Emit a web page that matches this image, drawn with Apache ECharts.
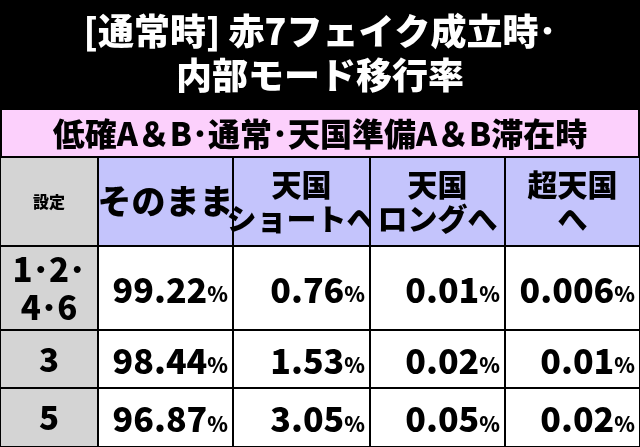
<!DOCTYPE html><html><head><meta charset="utf-8"><script src="https://cdn.jsdelivr.net/npm/echarts@6/dist/echarts.min.js"></script>
<style>html,body{margin:0;padding:0;background:#000}#c{width:640px;height:447px}</style></head><body><div id="c"></div><script>
const titleText = "[通常時] 赤7フェイク成立時･\n内部モード移行率";
const bandText = "低確A＆B･通常･天国準備A＆B滞在時";
const headers = ["設定", "そのまま", "天国\nショートへ", "天国\nロングへ", "超天国\nへ"];
const settings = ["1･2･\n4･6", "3", "5"];
const stay = ["99.22", "98.44", "96.87"];
const heavenShort = ["0.76", "1.53", "3.05"];
const heavenLong = ["0.01", "0.02", "0.05"];
const superHeaven = ["0.006", "0.01", "0.02"];

const colEdges = [0, 98, 233, 370, 505, 640];
const rowEdges = [157, 246, 330, 388, 447];
const F = '"Noto Sans CJK JP", sans-serif';

const cells = [];
headers.forEach((h, c) => cells.push([c, 0, h, c === 0 ? 'hs' : 'h']));
const cols = [stay, heavenShort, heavenLong, superHeaven];
settings.forEach((s, r) => {
  cells.push([0, r + 1, s, 's']);
  cols.forEach((arr, c) => cells.push([c + 1, r + 1, arr[r], 'v']));
});

const chart = echarts.init(document.getElementById('c'));
chart.setOption({
  backgroundColor: '#000',
  animation: false,
  title: [{ text: titleText, left: 'center', top: 4, textStyle: { color: '#fff', fontFamily: F, fontWeight: 900, fontSize: 36, lineHeight: 44 } }],
  graphic: [
    { type: 'rect', shape: { x: 1, y: 109, width: 638, height: 48 }, style: { fill: '#fcd0fc', stroke: '#000', lineWidth: 2 } },
    { type: 'text', x: 320, y: 134, style: { text: bandText, fill: '#000', font: '900 32px ' + F, align: 'center', verticalAlign: 'middle' } }
  ],
  grid: { left: 0, right: 0, top: 0, bottom: 0 },
  xAxis: { type: 'value', min: 0, max: 640, show: false },
  yAxis: { type: 'value', min: 0, max: 447, inverse: true, show: false },
  series: [{
    type: 'custom',
    data: cells,
    renderItem: function (params, api) {
      const c = api.value(0), r = api.value(1);
      const type = cells[params.dataIndex][3];
      const text = cells[params.dataIndex][2];
      const p0 = api.coord([colEdges[c], rowEdges[r]]);
      const p1 = api.coord([colEdges[c + 1], rowEdges[r + 1]]);
      const w = p1[0] - p0[0], h = p1[1] - p0[1];
      let fill = '#fff';
      if (type === 'h') fill = '#c4c4fc';
      if (type === 'hs' || type === 's') fill = '#d4d4d4';
      const rect = { type: 'rect', shape: { x: p0[0], y: p0[1], width: w, height: h }, style: { fill: fill, stroke: '#000', lineWidth: 2 } };
      let txt;
      if (type === 'v') {
        txt = { type: 'text', x: p1[0] - 5, y: p0[1] + h / 2 + 2, style: { text: '{n|' + text + '}{p|%}', align: 'right', verticalAlign: 'middle',
          rich: { n: { font: '900 34px ' + F, fill: '#000' }, p: { font: '900 21px ' + F, fill: '#000', padding: [9, 0, 0, 0] } } } };
      } else {
        let size = type === 'hs' ? 16 : (type === 's' ? 33 : (c === 1 ? 34 : 30));
        txt = { type: 'text', x: p0[0] + w / 2, y: p0[1] + h / 2, style: { text: text, fill: '#000', font: '900 ' + size + 'px ' + F, lineHeight: size * 1.15, align: 'center', verticalAlign: 'middle' } };
      }
      return { type: 'group', children: [rect, txt] };
    }
  }]
});
</script></body></html>
